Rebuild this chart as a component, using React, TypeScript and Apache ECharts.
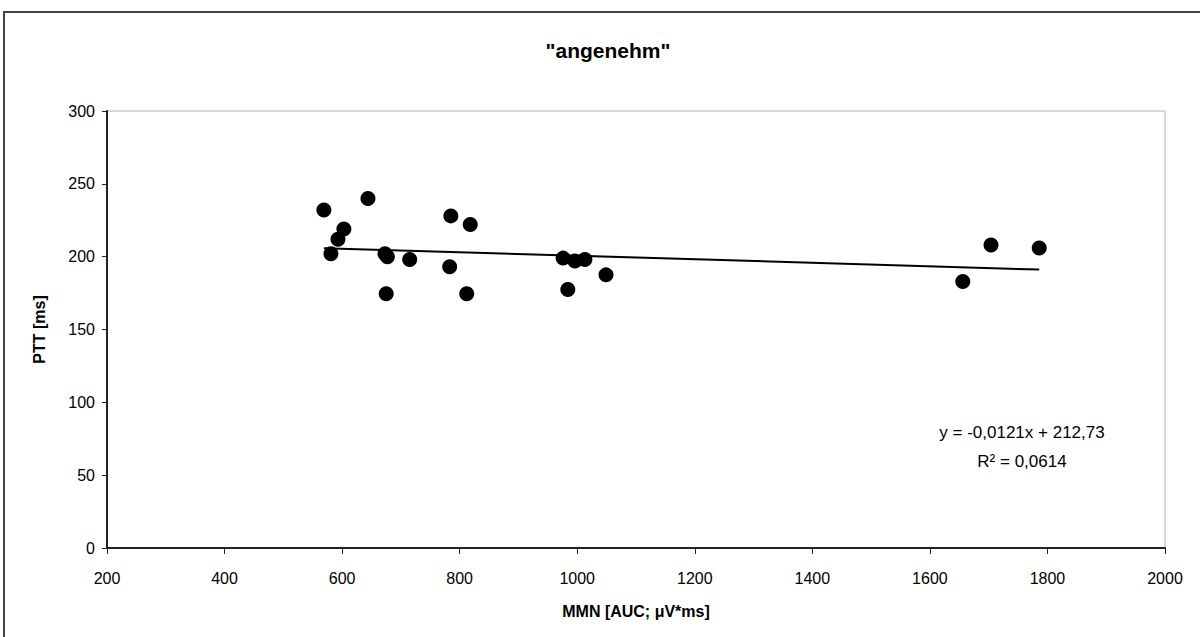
import React, { useEffect, useRef } from "react";
import * as echarts from "echarts";

const title = '"angenehm"';
const xName = "MMN [AUC; μV*ms]";
const yName = "PTT [ms]";
const mmn = [569, 581, 593, 603, 644, 673, 677, 675, 715, 783, 785, 812, 818, 976, 984, 996, 1013, 1049, 1656, 1704, 1786];
const ptt = [232, 202, 212, 219, 240, 202, 200, 174.5, 198, 193, 228, 174.5, 222, 199, 177.5, 197, 198, 187.5, 183, 208, 206];
const slope = -0.0121;
const intercept = 212.73;
const equationText = "y = -0,0121x + 212,73";
const r2Text = "R² = 0,0614";

export default function App() {
  const ref = useRef<HTMLDivElement>(null);
  useEffect(() => {
    if (!ref.current) return;
    const chart = echarts.init(ref.current, null, { renderer: "svg" });
    const pts = mmn.map((x, i) => [x, ptt[i]]);
    const xMin = Math.min(...mmn);
    const xMax = Math.max(...mmn);
    const trend = [
      [xMin, slope * xMin + intercept],
      [xMax, slope * xMax + intercept],
    ];
    const font = "'Liberation Sans', Arial, sans-serif";
    chart.setOption({
      animation: false,
      backgroundColor: "#fff",
      title: {
        text: title,
        left: 603,
        textAlign: "center",
        top: 35,
        textStyle: { fontFamily: font, fontSize: 21, fontWeight: "bold", color: "#000" },
      },
      grid: {
        left: 107,
        right: 35,
        top: 111,
        bottom: 89,
        show: true,
        borderColor: "#b0b0b0",
        borderWidth: 1,
        backgroundColor: "#fff",
      },
      xAxis: {
        type: "value",
        min: 200,
        max: 2000,
        interval: 200,
        name: xName,
        nameLocation: "middle",
        nameGap: 55,
        nameTextStyle: { fontFamily: font, fontSize: 16, fontWeight: "bold", color: "#000" },
        axisLine: { show: true, onZero: false, lineStyle: { color: "#222", width: 2 } },
        axisTick: { show: true, length: 6, lineStyle: { color: "#222" } },
        axisLabel: { fontFamily: font, fontSize: 16, color: "#000", margin: 22, formatter: (v: number) => String(v) },
        splitLine: { show: false },
      },
      yAxis: {
        type: "value",
        min: 0,
        max: 300,
        interval: 50,
        name: yName,
        nameLocation: "middle",
        nameGap: 60,
        nameRotate: 90,
        nameTextStyle: { fontFamily: font, fontSize: 16, fontWeight: "bold", color: "#000" },
        axisLine: { show: true, lineStyle: { color: "#222", width: 2 } },
        axisTick: { show: true, length: 5, lineStyle: { color: "#222" } },
        axisLabel: { fontFamily: font, fontSize: 16, color: "#000", margin: 12 },
        splitLine: { show: false },
      },
      series: [
        {
          type: "line",
          data: trend,
          symbol: "none",
          lineStyle: { color: "#000", width: 2 },
          z: 3,
        },
        {
          type: "scatter",
          data: pts,
          symbol: "circle",
          symbolSize: 15,
          itemStyle: { color: "#000", opacity: 1 },
          z: 4,
        },
      ],
      graphic: [
        {
          type: "rect",
          shape: { x: 4, y: 12, width: 1220, height: 700 },
          style: { fill: "none", stroke: "#444", lineWidth: 2 },
          silent: true,
          z: 100,
        },
        {
          type: "text",
          x: 1022,
          y: 432,
          style: {
            text: equationText,
            textAlign: "center",
            textVerticalAlign: "middle",
            fontFamily: font,
            fontSize: 17,
            fill: "#000",
          },
        },
        {
          type: "text",
          x: 1022,
          y: 461,
          style: {
            text: r2Text,
            textAlign: "center",
            textVerticalAlign: "middle",
            fontFamily: font,
            fontSize: 17,
            fill: "#000",
          },
        },
      ],
    });
    return () => chart.dispose();
  }, []);
  return (
    <div
      ref={ref}
      style={{ position: "fixed", left: 0, top: 0, width: 1200, height: 637 }}
    />
  );
}
